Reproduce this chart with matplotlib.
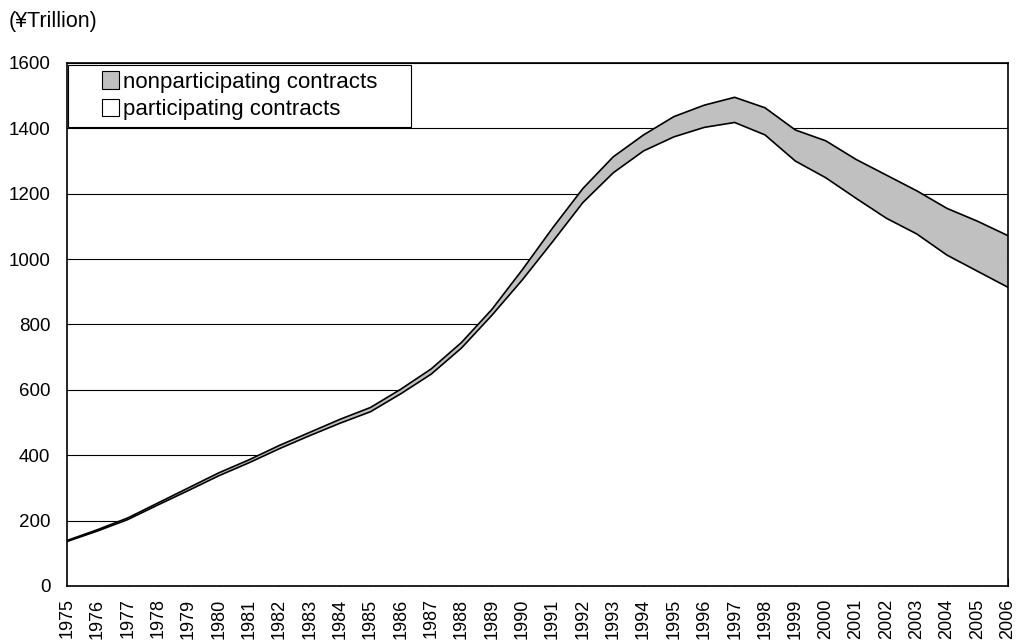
import matplotlib.pyplot as plt
import numpy as np
from matplotlib.patches import Patch, Rectangle
from matplotlib.legend_handler import HandlerPatch

plt.rcParams['font.family'] = ['Liberation Sans', 'DejaVu Sans']

# Policies in force, 1975-2006 (trillion yen)
years = list(range(1975, 2007))
participating = [136, 168, 203, 248, 292, 337, 377, 420, 460, 498, 533, 588,
                 648, 728, 828, 936, 1053, 1173, 1264, 1331, 1374, 1403, 1418,
                 1380, 1300, 1249, 1186, 1125, 1077, 1012, 963, 914]
total = [139, 172, 208, 254, 300, 346, 386, 430, 470, 510, 546, 602,
         664, 745, 846, 967, 1095, 1216, 1313, 1380, 1436, 1471, 1495,
         1463, 1395, 1362, 1305, 1257, 1209, 1155, 1116, 1072]

fig = plt.figure(figsize=(10.19, 6.44), dpi=100)
ax = fig.add_axes([0.0657, 0.0901, 0.9233, 0.8121])

x = np.array(years)
ax.fill_between(x, 0, participating, facecolor='white', edgecolor='none', zorder=2)
ax.fill_between(x, participating, total, facecolor='#c0c0c0', edgecolor='none', zorder=2)
ax.plot(x, participating, color='black', lw=1.2, zorder=3)
ax.plot(x, total, color='black', lw=1.2, zorder=3)

ax.set_xlim(1975, 2006)
ax.set_ylim(0, 1600)
ax.set_yticks(range(0, 1601, 200))
ax.set_xticks(years)
ax.set_xticklabels([str(y) for y in years], rotation=90)
ax.tick_params(axis='x', direction='in', length=6, labelsize=13, pad=9)
ax.tick_params(axis='y', length=0, labelsize=13.5, pad=12)
ax.yaxis.grid(True, color='black', lw=0.8, zorder=1)
ax.set_axisbelow(True)
for s in ax.spines.values():
    s.set_color('black')
    s.set_linewidth(1.2)


# small square key drawn at the right end of the handle box
def square_key(legend, orig_handle, xdescent, ydescent, width, height, fontsize):
    side = height * 1.05
    return Rectangle((width - side - xdescent, -ydescent + (height - side) / 2),
                     side, side)


handles = [Patch(facecolor='#c0c0c0', edgecolor='black', lw=0.8),
           Patch(facecolor='white', edgecolor='black', lw=0.8)]
leg = ax.legend(handles, ['nonparticipating contracts', 'participating contracts'],
                loc='upper left', bbox_to_anchor=(0.001, 0.0, 0.3645, 0.996),
                mode='expand', fontsize=16,
                frameon=True, fancybox=False, edgecolor='black', framealpha=1,
                handler_map={Patch: HandlerPatch(patch_func=square_key)},
                handlelength=2.0, handleheight=0.75, handletextpad=0.2,
                borderpad=0.3, labelspacing=0.3, borderaxespad=0)
leg.get_frame().set_linewidth(0.8)
leg.set_zorder(5)

fig.text(0.008, 0.966, '(\u00a5Trillion)', fontsize=15.5, ha='left', va='center')

fig.savefig('out.png', dpi=100)
